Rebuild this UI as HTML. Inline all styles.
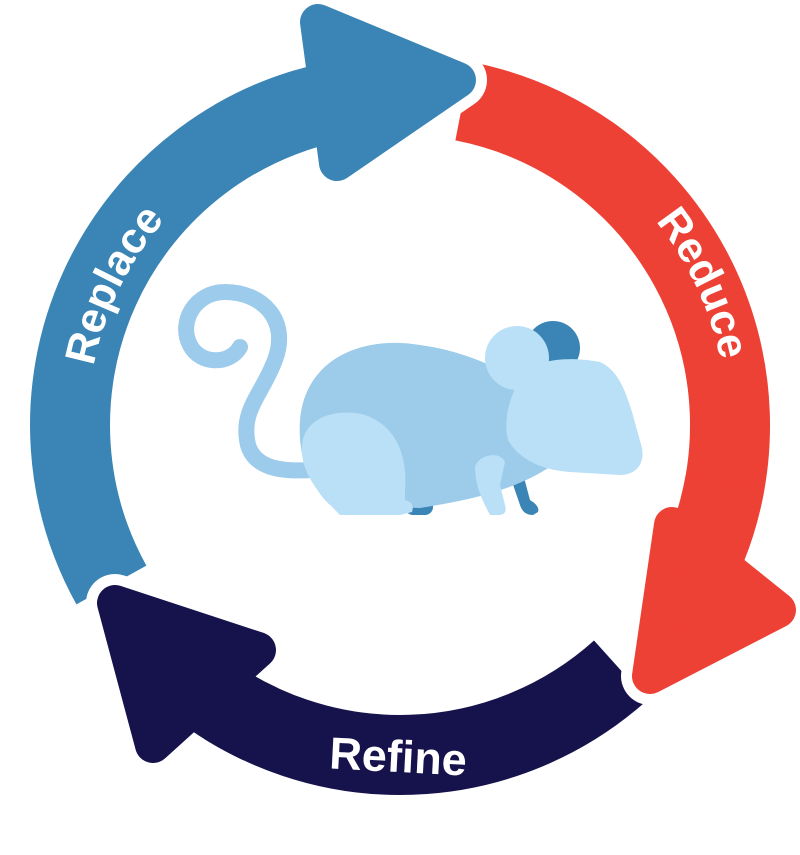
<!DOCTYPE html>
<html><head><meta charset="utf-8"><style>
html,body{margin:0;padding:0;background:#fff;}
svg{display:block;}
text{font-family:"Liberation Sans",sans-serif;font-weight:bold;fill:#fff;}
</style></head><body>
<svg width="800" height="855" viewBox="0 0 800 855" xmlns="http://www.w3.org/2000/svg">
<defs>
<path id="pRep" d="M97.3,500.5 A312,312 0 0 1 273.1,140"/>
<path id="pRed" d="M631.2,193.8 A327,327 0 0 1 725.8,396.5"/>
</defs>
<!-- bands -->
<path d="M463,101.1 A330,330 0 0 1 706,548.6" stroke="#ee4136" stroke-width="80" fill="none"/>
<path d="M620.8,670.2 A330,330 0 0 1 196.8,685" stroke="#16124c" stroke-width="80" fill="none"/>
<path d="M111.4,585 A330,330 0 0 1 331.4,102.2" stroke="#3a85b5" stroke-width="80" fill="none"/>
<!-- blue head -->
<polygon points="318,22 458,80 337,163" fill="#fff" stroke="#fff" stroke-width="58" stroke-linejoin="round"/>
<path d="M235,139.2 A330,330 0 0 1 331.4,102.2" stroke="#3a85b5" stroke-width="80" fill="none"/>
<polygon points="318,22 458,80 337,163" fill="#3a85b5" stroke="#3a85b5" stroke-width="36" stroke-linejoin="round"/>
<!-- red head -->
<polygon points="672,525 778,610 650,676" fill="#fff" stroke="#fff" stroke-width="58" stroke-linejoin="round"/>
<path d="M725,482.3 A330,330 0 0 1 706,548.6" stroke="#ee4136" stroke-width="80" fill="none"/>
<polygon points="672,525 778,610 650,676" fill="#ee4136" stroke="#ee4136" stroke-width="36" stroke-linejoin="round"/>
<!-- navy head -->
<polygon points="115,603 258,650 153,745" fill="#fff" stroke="#fff" stroke-width="58" stroke-linejoin="round"/>
<path d="M260.5,724.1 A330,330 0 0 1 196.8,685" stroke="#16124c" stroke-width="80" fill="none"/>
<polygon points="115,603 258,650 153,745" fill="#16124c" stroke="#16124c" stroke-width="36" stroke-linejoin="round"/>
<!-- labels -->
<text font-size="43" text-anchor="middle"><textPath href="#pRep" startOffset="50%">Replace</textPath></text>
<text font-size="43" text-anchor="middle"><textPath href="#pRed" startOffset="50%">Reduce</textPath></text>
<text x="398" y="772" font-size="45" text-anchor="middle" transform="rotate(3 398 760)">Refine</text>
<!-- mouse -->
<path d="M240,347 C230,365 200,365 190,345 C178,322 195,292 225,292 C262,292 290,320 275,360 C262,395 240,410 248,445 C255,468 280,472 312,470" stroke="#9ccbeb" stroke-width="16" fill="none" stroke-linecap="round"/>
<rect x="405" y="495" width="28" height="20" rx="8" fill="#3a85b5"/>
<path d="M508,470 L520,505 Q523,515 533,515 L538,512 Q540,506 530,500 L522,470 Z" fill="#3a85b5"/>
<path d="M300,420 C305,360 360,335 420,345 C470,352 500,370 530,385 L560,460 C520,490 470,500 420,508 L330,505 C305,480 298,450 300,420 Z" fill="#9dcbea"/>
<path d="M302,445 C305,415 340,408 365,415 C395,425 408,455 405,490 L405,500 Q415,502 412,512 L400,515 L340,515 C315,490 300,470 302,445 Z" fill="#b9e0f6"/>
<path d="M475,467 C478,455 500,450 505,462 L500,485 L505,505 Q508,515 498,515 L490,515 C482,500 475,485 475,467 Z" fill="#b9e0f6"/>
<circle cx="553" cy="348" r="27" fill="#3a85b5"/>
<path d="M520,380 C530,358 570,356 600,362 C618,370 625,390 632,412 L642,448 C645,465 635,475 620,475 L570,472 C540,470 518,458 508,440 C503,420 510,395 520,380 Z" fill="#b9e0f6"/>
<circle cx="517" cy="358" r="32" fill="#b9e0f6"/>
</svg>
</body></html>
